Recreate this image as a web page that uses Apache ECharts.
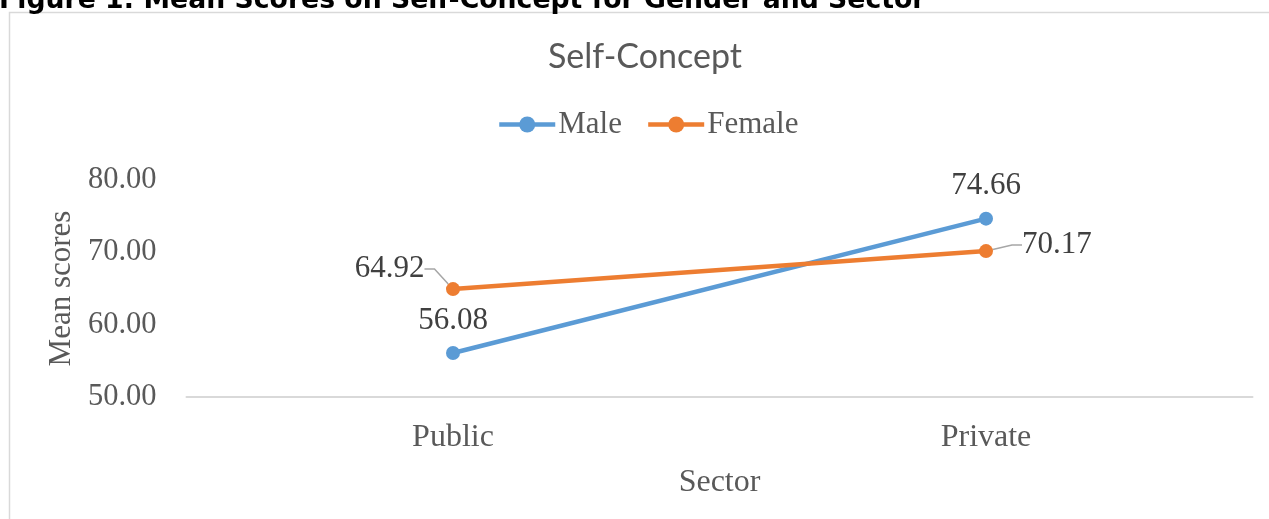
<!DOCTYPE html>
<html>
<head>
<meta charset="utf-8">
<script src="https://cdn.jsdelivr.net/npm/echarts@6/dist/echarts.min.js"></script>
<style>
  html, body { margin: 0; padding: 0; background: #fff; }
  #chart { width: 1269px; height: 519px; }
</style>
</head>
<body>
<div id="chart"></div>
<script>
// data
let sectors = ['Public', 'Private'];
let maleScores = [56.08, 74.66];
let femaleScores = [64.92, 70.17];
let yTicks = [50, 60, 70, 80];

let serifFont = '"Liberation Serif", "Times New Roman", serif';
let labelColor = '#404040';
let axisTextColor = '#595959';

let myChart = echarts.init(document.getElementById('chart'));

let option = {
    animation: false,
    backgroundColor: '#fff',
    graphic: [
        {
            type: 'rect',
            silent: true,
            shape: {x: 9.5, y: 12.5, width: 1320, height: 600},
            style: {fill: 'none', stroke: '#d9d9d9', lineWidth: 1.5}
        },
        {
            type: 'text',
            silent: true,
            x: -1,
            y: 15,
            style: {
                text: 'Figure 1: Mean Scores on Self-Concept for Gender and Sector',
                font: 'bold 26.7px "DejaVu Sans", Verdana, sans-serif',
                fill: '#000',
                textVerticalAlign: 'bottom'
            }
        }
    ],
    title: {
        text: 'Self-Concept',
        left: 548,
        top: 40,
        padding: 0,
        textStyle: {
            fontFamily: 'Lato, "Open Sans", sans-serif',
            fontWeight: 'normal',
            fontSize: 34,
            color: axisTextColor
        }
    },
    legend: {
        top: 109,
        left: 497,
        padding: 0,
        itemWidth: 56,
        itemHeight: 20,
        itemGap: 24,
        data: ['Male', 'Female'],
        lineStyle: {width: 4.5},
        textStyle: {
            fontFamily: serifFont,
            fontSize: 31,
            color: axisTextColor,
            padding: [0, 0, 0, -2]
        }
    },
    grid: {
        left: 186.5,
        right: 16.5,
        top: 180,
        bottom: 122,
        containLabel: false
    },
    xAxis: {
        type: 'category',
        data: sectors,
        name: 'Sector',
        nameLocation: 'middle',
        nameGap: 70,
        nameTextStyle: {fontFamily: serifFont, fontSize: 32, color: axisTextColor},
        axisLine: {lineStyle: {color: '#d9d9d9', width: 2}},
        axisTick: {show: false},
        axisLabel: {
            fontFamily: serifFont,
            fontSize: 32,
            color: axisTextColor,
            margin: 25
        }
    },
    yAxis: {
        type: 'value',
        min: yTicks[0],
        max: yTicks[yTicks.length - 1],
        interval: 10,
        name: 'Mean scores',
        nameLocation: 'middle',
        nameGap: 106,
        nameTextStyle: {fontFamily: serifFont, fontSize: 31, color: axisTextColor},
        axisLine: {show: false},
        axisTick: {show: false},
        splitLine: {show: false},
        axisLabel: {
            fontFamily: serifFont,
            fontSize: 30.5,
            color: axisTextColor,
            margin: 30,
            formatter: function (v) { return v.toFixed(2); }
        }
    },
    series: [
        {
            name: 'Male',
            type: 'line',
            data: maleScores,
            color: '#5b9bd5',
            symbol: 'circle',
            symbolSize: 14,
            lineStyle: {width: 4.5},
            label: {
                show: true,
                position: 'top',
                distance: 10,
                fontFamily: serifFont,
                fontSize: 31,
                color: labelColor,
                formatter: function (p) { return p.value.toFixed(2); }
            }
        },
        {
            name: 'Female',
            type: 'line',
            data: femaleScores,
            color: '#ed7d31',
            symbol: 'circle',
            symbolSize: 14,
            lineStyle: {width: 4.5},
            label: {
                show: true,
                fontFamily: serifFont,
                fontSize: 31,
                color: labelColor,
                formatter: function (p) { return p.value.toFixed(2); }
            },
            labelLine: {
                show: true,
                length2: 10,
                lineStyle: {color: '#a6a6a6', width: 1.5}
            },
            labelLayout: function (params) {
                let r = params.rect;
                if (params.dataIndex === 0) {
                    return {x: r.x - 21.5, y: r.y - 13, align: 'right', verticalAlign: 'middle'};
                }
                return {x: r.x + r.width + 29, y: r.y + 1, align: 'left', verticalAlign: 'middle'};
            }
        }
    ]
};

myChart.setOption(option);
</script>
</body>
</html>
